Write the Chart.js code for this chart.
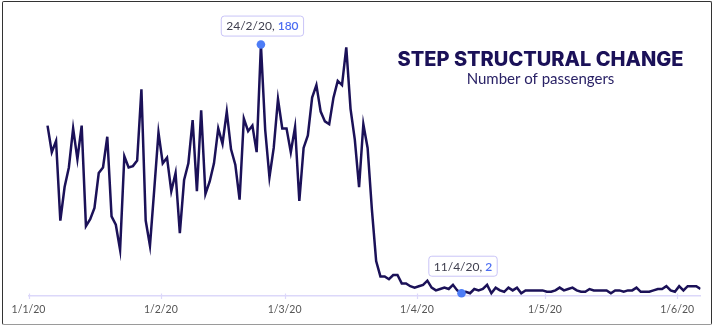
<!DOCTYPE html>
<html>
<head>
<meta charset="utf-8">
<title>Step structural change</title>
<script src="https://cdn.jsdelivr.net/npm/chart.js@4.4.1/dist/chart.umd.min.js"></script>
<style>
  html, body { margin: 0; padding: 0; background: #ffffff; }
  #wrap { position: relative; width: 713px; height: 326px; overflow: hidden; }
  #wrap canvas { position: absolute; left: 0; top: 0; }
  #frame {
    position: absolute; left: 2px; top: 1px; width: 710px; height: 324px;
    box-sizing: border-box; border: 1.5px solid #333333; border-bottom-color: #9a9a9a;
    border-radius: 2px; pointer-events: none;
  }
</style>
</head>
<body>
<div id="wrap">
  <canvas id="chart" width="713" height="326"></canvas>
  <div id="frame"></div>
</div>
<script>
// Daily passenger counts, one value per day starting on seriesStart
const seriesStart = '2020-01-05';
const passengers = [
  122, 103, 111, 54, 78, 92, 120, 98, 122, 50,
  55, 63, 88, 92, 114, 57, 51, 33, 100, 92,
  93, 97, 148, 54, 36, 76, 117, 95, 99, 75,
  88, 45, 83, 95, 126, 75, 133, 73, 82, 95,
  120, 109, 132, 105, 94, 69, 127, 118, 122, 103,
  180, 119, 85, 106, 141, 120, 120, 103, 121, 68,
  106, 115, 142, 151, 132, 125, 123, 142, 154, 151,
  178, 134, 112, 78, 123, 106, 62, 25, 14, 14,
  12, 15, 15, 9, 9, 7, 6, 7, 8, 11,
  6, 4, 5, 6, 5, 8, 4, 2, 3, 2,
  5, 4, 5, 8, 2, 6, 4, 3, 6, 4,
  6, 2, 4, 4, 4, 4, 4, 3, 3, 4,
  6, 4, 5, 6, 4, 3, 3, 5, 4, 4,
  4, 4, 2, 4, 4, 3, 4, 4, 6, 3,
  3, 3, 4, 5, 5, 7, 4, 3, 7, 4,
  7, 7, 7, 5
];

// Month ticks on the time axis
const monthTickDates = ['2020-01-01', '2020-02-01', '2020-03-01', '2020-04-01', '2020-05-01', '2020-06-01'];
const monthTickLabels = ['1/1/20', '1/2/20', '1/3/20', '1/4/20', '1/5/20', '1/6/20'];

// Days called out with a value label
const calloutDates = ['2020-02-24', '2020-04-11'];

const titleText = 'STEP STRUCTURAL CHANGE';
const subtitleText = 'Number of passengers';

// ---- helpers ----
const DAY_MS = 86400000;
const ORIGIN = Date.UTC(2020, 0, 1);
const SAMPLE_HOUR = 11;            // readings are stamped late morning
function dayOf(iso) {
  const [y, m, d] = iso.split('-').map(Number);
  return (Date.UTC(y, m - 1, d) - ORIGIN) / DAY_MS;
}
function shortDate(iso) {
  const [y, m, d] = iso.split('-').map(Number);
  return d + '/' + m + '/' + String(y).slice(2);
}

const startDay = dayOf(seriesStart);
const points = passengers.map((v, i) => ({ x: startDay + i + SAMPLE_HOUR / 24, y: v }));
const tickDays = monthTickDates.map(dayOf);

const INK = '#1b1158';
const ACCENT = '#4d7cf6';
const calloutGap = [9, 17.5];

// ---- decorations: axis ticks, heading, callouts ----
const decor = {
  id: 'decor',
  beforeDatasetsDraw(chart) {
    const { ctx, scales: { x, y } } = chart;
    const base = y.getPixelForValue(0);
    ctx.save();
    ctx.strokeStyle = '#dcd8fa';
    ctx.lineWidth = 1.2;
    tickDays.forEach(d => {
      const px = Math.round(x.getPixelForValue(d)) + 0.5;
      ctx.beginPath();
      ctx.moveTo(px, base - 2.5);
      ctx.lineTo(px, base + 3);
      ctx.stroke();
    });
    ctx.restore();
  },
  afterDatasetsDraw(chart) {
    const { ctx, scales: { x, y } } = chart;
    ctx.save();

    // heading
    ctx.textAlign = 'center';
    ctx.textBaseline = 'alphabetic';
    ctx.fillStyle = INK;
    ctx.font = '800 20px Inter';
    ctx.fillText(titleText, 540.5, 65.5);
    ctx.fillStyle = '#2a2266';
    ctx.font = '15px Lato';
    ctx.fillText(subtitleText, 540.5, 84);

    // callouts
    calloutDates.forEach((iso, n) => {
      const idx = dayOf(iso) - startDay;
      const val = passengers[idx];
      const pt = points[idx];
      const px = x.getPixelForValue(pt.x);
      const py = y.getPixelForValue(val);

      ctx.beginPath();
      ctx.arc(px, py, 4.3, 0, Math.PI * 2);
      ctx.fillStyle = ACCENT;
      ctx.fill();

      const head = shortDate(iso) + ', ';
      const tail = String(val);
      ctx.font = '12px Lato';
      const wHead = ctx.measureText(head).width;
      const wTail = ctx.measureText(tail).width;
      const w = wHead + wTail + 10;
      const h = 20;
      const bx = px + 1 - w / 2;
      const by = py - calloutGap[n] - h;

      ctx.beginPath();
      if (ctx.roundRect) ctx.roundRect(bx + 0.5, by + 0.5, w, h, 3);
      else ctx.rect(bx + 0.5, by + 0.5, w, h);
      ctx.fillStyle = '#ffffff';
      ctx.fill();
      ctx.strokeStyle = '#c9c4f7';
      ctx.lineWidth = 1;
      ctx.stroke();

      ctx.textAlign = 'left';
      ctx.textBaseline = 'middle';
      ctx.fillStyle = '#3f3f4f';
      ctx.fillText(head, bx + 5.5, by + h / 2 + 1);
      ctx.fillStyle = '#4d6ef2';
      ctx.font = '600 12px Lato';
      ctx.fillText(tail, bx + 5.5 + wHead, by + h / 2 + 1);
    });
    ctx.restore();
  }
};

new Chart(document.getElementById('chart'), {
  type: 'line',
  data: {
    datasets: [{
      label: 'Passengers',
      data: points,
      borderColor: INK,
      borderWidth: 2.5,
      pointRadius: 0,
      pointHoverRadius: 0,
      tension: 0,
      fill: false
    }]
  },
  options: {
    responsive: false,
    devicePixelRatio: 1,
    animation: false,
    layout: { padding: { left: 28.5, right: 12.5, top: 30.6, bottom: 0 } },
    plugins: { legend: { display: false }, tooltip: { enabled: false } },
    scales: {
      x: {
        type: 'linear',
        min: 0,
        max: points[points.length - 1].x,
        afterBuildTicks: s => { s.ticks = tickDays.map(v => ({ value: v })); },
        afterFit: s => { s.height = 30; },
        grid: { display: false, drawTicks: false },
        border: { display: true, color: '#dcd8fa', width: 1.5 },
        ticks: {
          autoSkip: false,
          maxRotation: 0,
          padding: 7,
          color: '#555555',
          font: { family: 'Lato', size: 10.5 },
          callback: v => monthTickLabels[tickDays.indexOf(v)]
        }
      },
      y: {
        type: 'linear',
        display: false,
        min: 0,
        max: 190
      }
    }
  },
  plugins: [decor]
});
</script>
</body>
</html>
